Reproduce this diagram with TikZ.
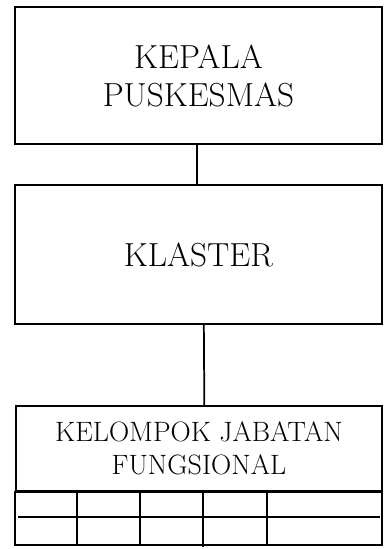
\documentclass[tikz,border=0pt]{standalone}
\usepackage{fontspec}
\usepackage{tikz}
\tikzstyle{box}=[draw,line width=1.3pt,align=center,inner sep=0,minimum width=275.25pt]
\tikzstyle{link}=[line width=1.3pt]
\tikzstyle{grid}=[line width=1.3pt]

\begin{document}
\begin{tikzpicture}[x=0.75pt,y=-0.75pt]
  \useasboundingbox (0,0) rectangle (387,549);

  % BOXES
  \node[box,minimum height=102.75pt,font=\fontsize{25}{28.5}\selectfont] (kepala) at (198.5,75.5) {KEPALA\\PUSKESMAS};
  \node[box,minimum height=104.25pt,font=\fontsize{25}{28.5}\selectfont] (klaster) at (198.5,254.5) {KLASTER};
  \node[box,minimum width=274.5pt,minimum height=63.75pt,font=\fontsize{21}{24.75}\selectfont] (jabatan) at (199,448.5) {KELOMPOK JABATAN\\FUNGSIONAL};

  % LINKS
  \draw[link] ([xshift=-1pt]kepala.south) -- ([xshift=-1pt]klaster.north);
  \draw[link] ([xshift=4pt]klaster.south) -- ([xshift=4pt]jabatan.north);

  % TABLE
  \draw[grid] (jabatan.south west) rectangle (382,545);
  \draw[grid] (18,517) -- (380,517);
  \foreach \x in {77,140,267}
    \draw[grid] (\x,491) -- (\x,545);
  \draw[grid] (203,491) -- (203,547);
\end{tikzpicture}
\end{document}
